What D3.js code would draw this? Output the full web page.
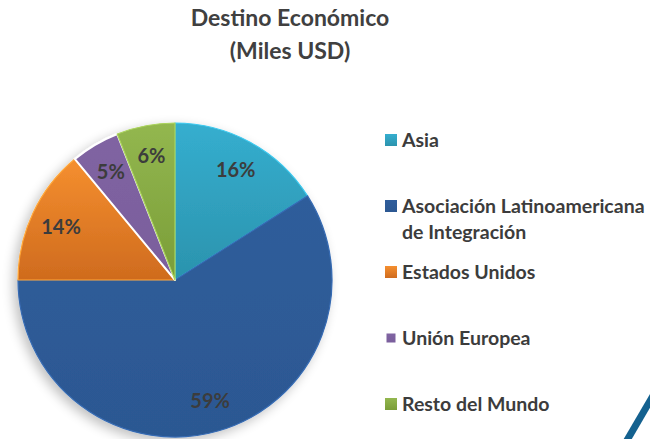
<!DOCTYPE html>
<html>
<head>
<meta charset="utf-8">
<script src="https://cdn.jsdelivr.net/npm/d3@7"></script>
<style>
  body { margin: 0; background: #fff; }
  svg { display: block; font-family: Lato, "Open Sans", sans-serif; }
</style>
</head>
<body>
<svg width="650" height="439"></svg>
<script>
// datos (porcentaje del total)
var regiones = ["Asia", "Asociación Latinoamericana de Integración", "Estados Unidos", "Unión Europea", "Resto del Mundo"];
var porcentajes = [16, 59, 14, 5, 6];
var colores = ["#35aecf", "#2f5d9b", "#f58f2f", "#8064a2", "#93b74f"];
var coloresOscuros = ["#2b93ad", "#2c5892", "#cf6b1e", "#7a5e9c", "#7a9d38"];
var titulo = ["Destino Económico", "(Miles USD)"];

var svg = d3.select("svg"),
  cx = 175, cy = 280, radius = 157;

var defs = svg.append("defs");

var sombra = defs.append("filter").attr("id", "sombra")
  .attr("x", "-20%").attr("y", "-20%").attr("width", "140%").attr("height", "140%");
sombra.append("feGaussianBlur").attr("in", "SourceAlpha").attr("stdDeviation", 6);
sombra.append("feOffset").attr("dx", -4).attr("dy", 4).attr("result", "blur");
sombra.append("feComponentTransfer").append("feFuncA").attr("type", "linear").attr("slope", 0.25);
var merge = sombra.append("feMerge");
merge.append("feMergeNode");
merge.append("feMergeNode").attr("in", "SourceGraphic");

regiones.forEach(function(r, i) {
  var grad = defs.append("linearGradient").attr("id", "grad" + i)
    .attr("x1", 0).attr("y1", 0).attr("x2", 0).attr("y2", 1);
  grad.append("stop").attr("offset", "0%").attr("stop-color", colores[i]);
  grad.append("stop").attr("offset", "100%").attr("stop-color", coloresOscuros[i]);
});

// titulo
svg.append("g").selectAll("text")
  .data(titulo)
  .enter().append("text")
    .attr("x", 290)
    .attr("y", (d, i) => 26 + i * 33)
    .attr("text-anchor", "middle")
    .attr("fill", "#404040")
    .style("font-size", "23px")
    .style("font-weight", "bold")
    .text(d => d);

var pie = d3.pie().sort(null).value(d => d);
var arc = d3.arc().innerRadius(0).outerRadius(radius);
var labelArc = d3.arc().innerRadius(126).outerRadius(126);

var g = svg.append("g").attr("transform", "translate(" + cx + "," + cy + ")");

var slices = g.append("g").attr("filter", "url(#sombra)");
slices.selectAll("path")
  .data(pie(porcentajes))
  .enter().append("path")
    .attr("d", arc)
    .attr("fill", (d, i) => "url(#grad" + i + ")")
    .attr("stroke", (d, i) => i == 3 ? "#fff" : d3.color(colores[i]).brighter(0.4))
    .attr("stroke-width", (d, i) => i == 3 ? 2 : 1.2)
    .attr("stroke-linejoin", "round");

g.selectAll(".etiqueta")
  .data(pie(porcentajes))
  .enter().append("text")
    .attr("class", "etiqueta")
    .attr("transform", d => "translate(" + labelArc.centroid(d) + ")")
    .attr("text-anchor", "middle")
    .attr("dy", "0.36em")
    .attr("fill", "#3c3c3c")
    .style("font-size", "20px")
    .style("font-weight", "bold")
    .text(d => d.data + "%");

// leyenda
var leyY = [140, 206, 272, 338, 404];
var legend = svg.append("g");
regiones.forEach(function(r, i) {
  var lado = i == 3 ? 9 : 12;
  legend.append("rect")
    .attr("x", 391 - lado / 2).attr("y", leyY[i] - lado / 2)
    .attr("width", lado).attr("height", lado)
    .attr("fill", "url(#grad" + i + ")");
  var lineas = i == 1 ? ["Asociación Latinoamericana", "de Integración"] : [r];
  legend.selectAll(null)
    .data(lineas)
    .enter().append("text")
      .attr("x", 402)
      .attr("y", (d, j) => leyY[i] + j * 26)
      .attr("dy", "0.36em")
      .attr("fill", "#3c3c3c")
      .style("font-size", "19.5px")
      .style("font-weight", "bold")
      .text(d => d);
});

// trazo decorativo de la plantilla (esquina inferior derecha)
svg.append("line")
  .attr("x1", 626).attr("y1", 442).attr("x2", 654).attr("y2", 394)
  .attr("stroke", "#14618f").attr("stroke-width", 7);
</script>
</body>
</html>
